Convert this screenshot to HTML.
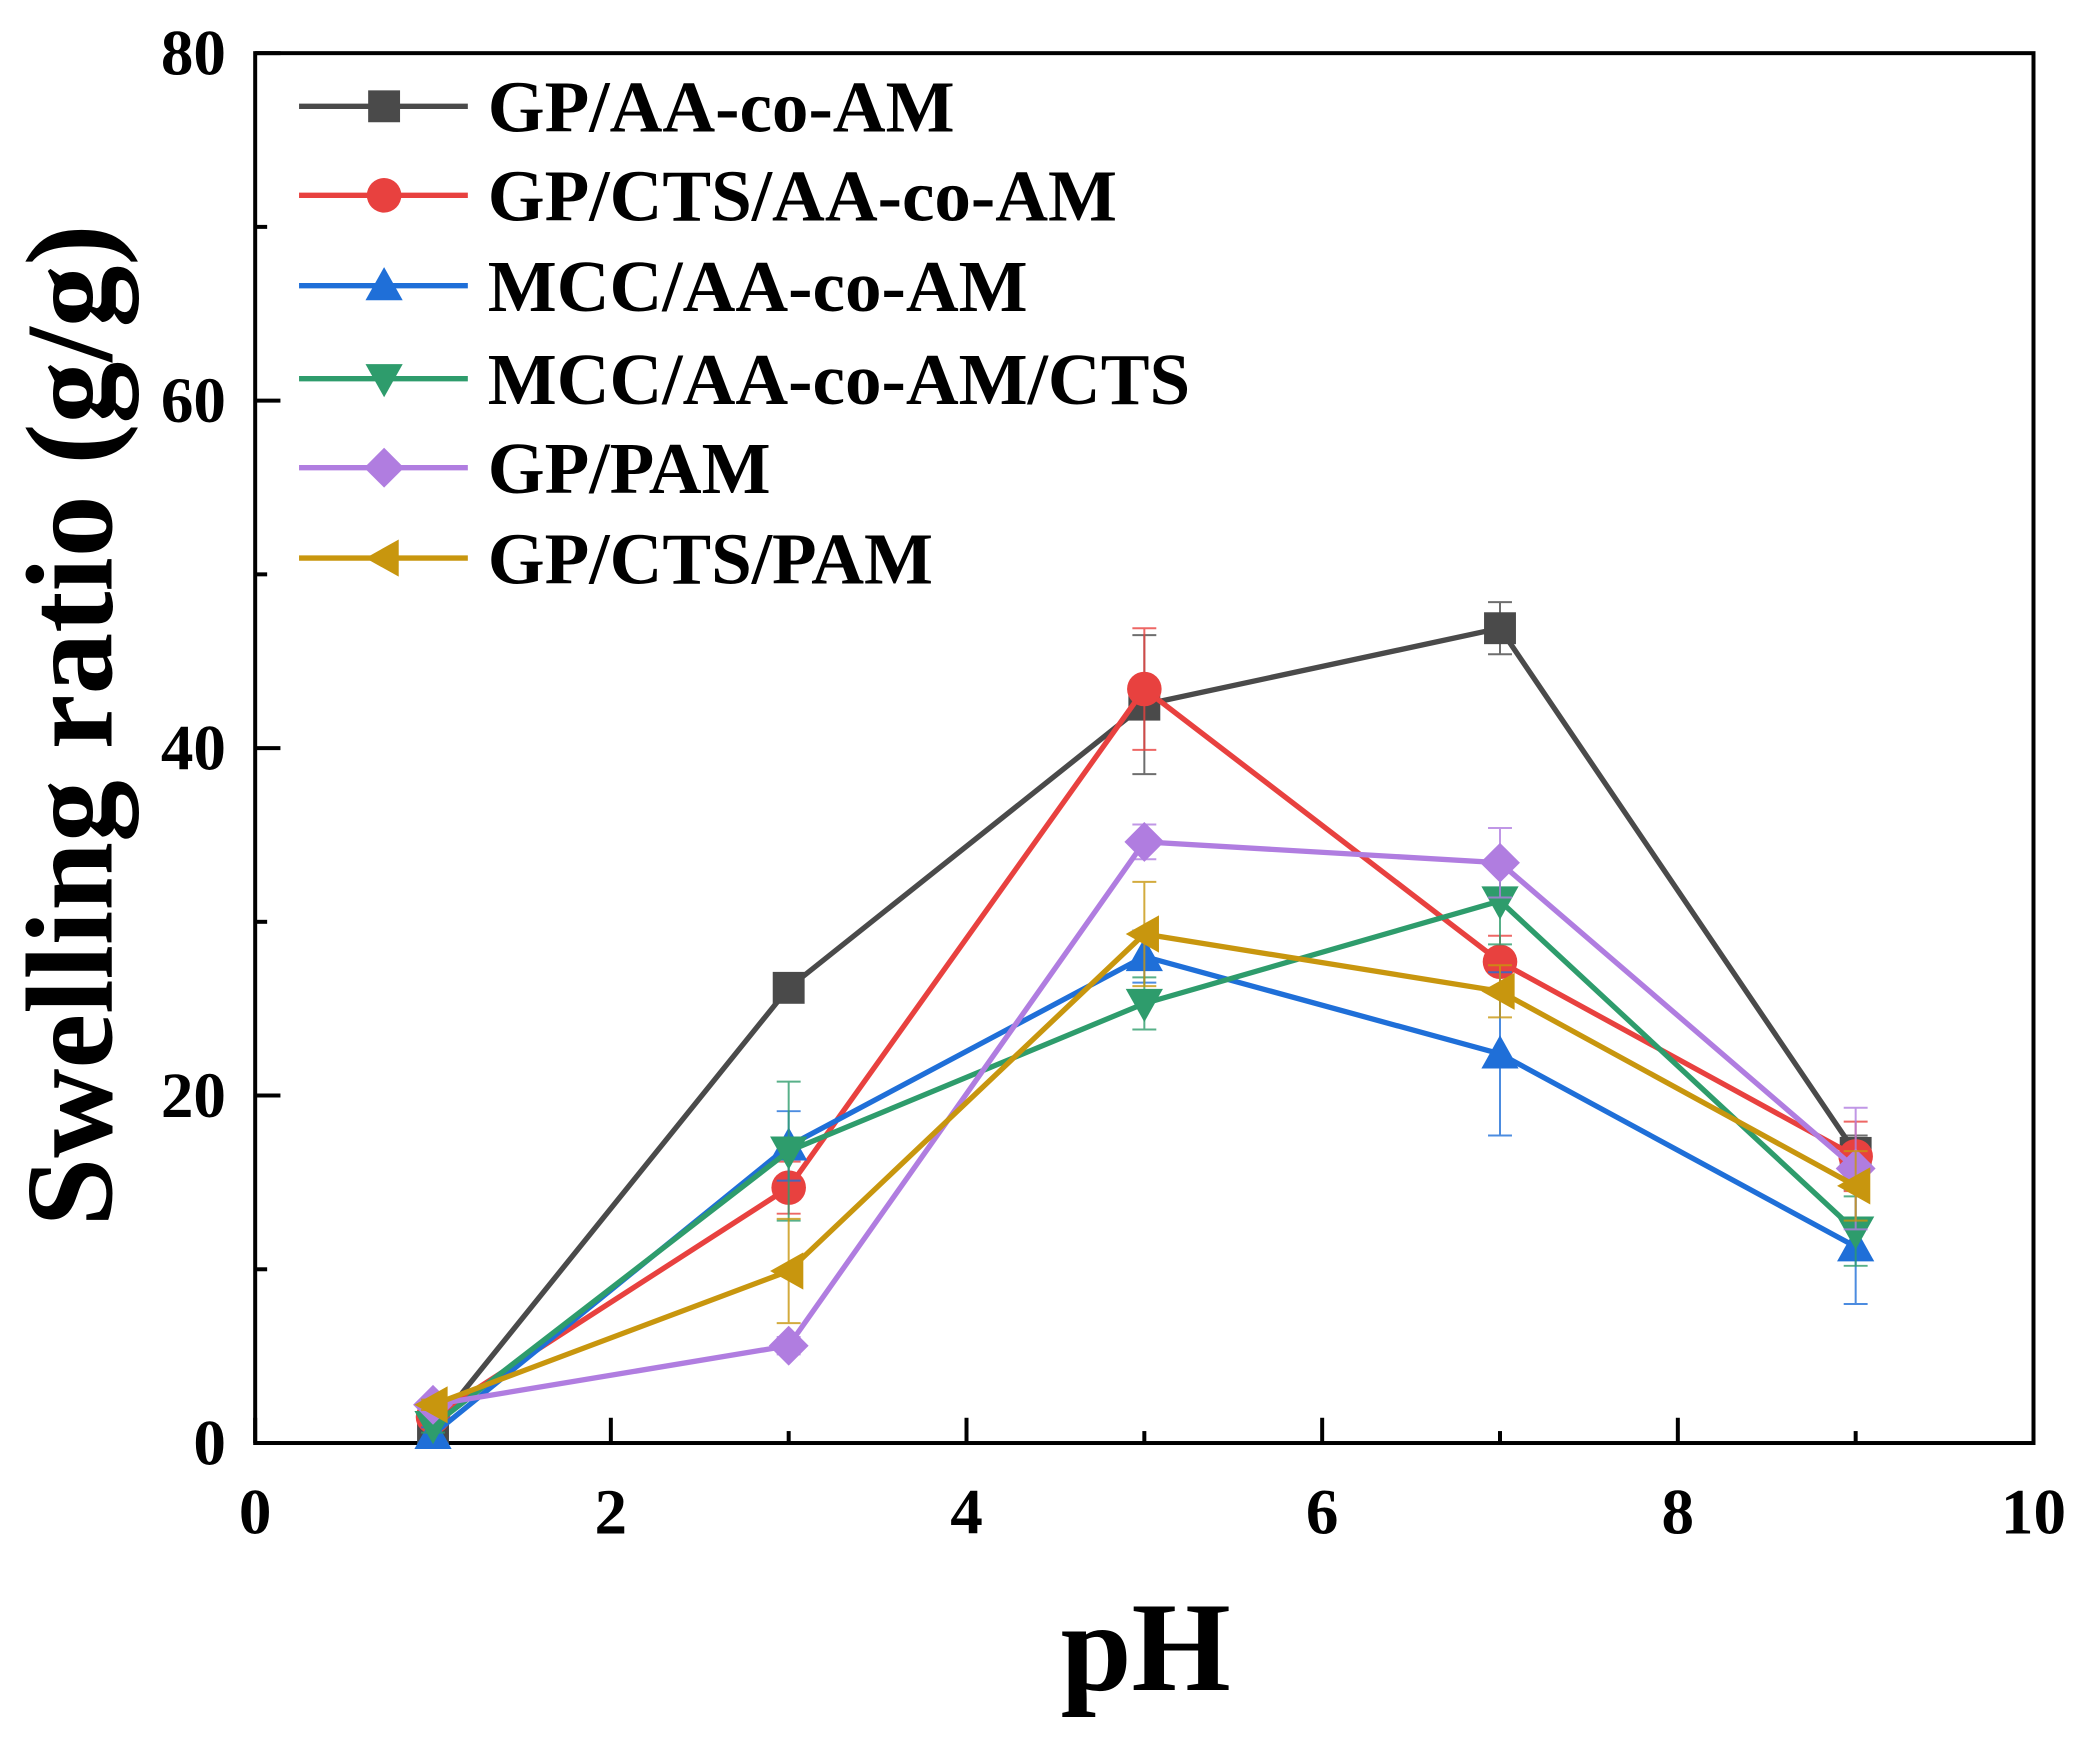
<!DOCTYPE html>
<html><head><meta charset="utf-8"><style>
html,body{margin:0;padding:0;background:#fff;}
svg{display:block;}
text{font-family:"Liberation Serif",serif;font-weight:bold;fill:#000;}
</style></head><body>
<svg id="chart" width="2084" height="1738" viewBox="0 0 1568 1308" preserveAspectRatio="none" xmlns="http://www.w3.org/2000/svg">
<g id="axes"></g><g id="series"></g><g id="legend"></g>
</svg>
<script>
const xTicks = [0, 2, 4, 6, 8, 10];
const yTicks = [0, 20, 40, 60, 80];
const phValues = [1, 3, 5, 7, 9];
const seriesNames = ["GP/AA-co-AM", "GP/CTS/AA-co-AM", "MCC/AA-co-AM", "MCC/AA-co-AM/CTS", "GP/PAM", "GP/CTS/PAM"];
const gpAA = [0.8, 26.2, 42.5, 46.9, 16.7];
const gpAAErr = [0.4, 0.5, 4.0, 1.5, 1.0];
const gpCtsAA = [1.5, 14.7, 43.4, 27.7, 16.5];
const gpCtsAAErr = [0.5, 1.5, 3.5, 1.5, 2.0];
const mccAA = [0.5, 17.1, 28.0, 22.4, 11.3];
const mccAAErr = [0.4, 2.0, 1.5, 4.7, 3.3];
const mccAACts = [1.0, 16.8, 25.3, 31.2, 12.2];
const mccAACtsErr = [0.4, 4.0, 1.5, 2.5, 2.0];
const gpPam = [2.2, 5.6, 34.6, 33.4, 15.8];
const gpPamErr = [0.3, 0.5, 1.0, 2.0, 3.5];
const gpCtsPam = [2.2, 9.9, 29.3, 26.0, 14.8];
const gpCtsPamErr = [0.3, 3.0, 3.0, 1.5, 2.0];

const NS = "http://www.w3.org/2000/svg";
const X0 = 192, X1 = 1530, Y0 = 1086, Y1 = 40;
const xs = v => X0 + (v - 0) / 10 * (X1 - X0);
const ys = v => Y0 - (v - 0) / 80 * (Y0 - Y1);
function mk(tag, attrs, parent) {
  const e = document.createElementNS(NS, tag);
  for (const k in attrs) e.setAttribute(k, attrs[k]);
  parent.appendChild(e);
  return e;
}
const axes = document.getElementById("axes");
const frame = mk("rect", {x: X0, y: Y1, width: X1 - X0, height: Y0 - Y1, fill: "none", stroke: "#000", "stroke-width": 3}, axes);


for (let v = 0; v <= 10; v += 1) {
  const major = v % 2 === 0;
  const t = mk("line", {x1: xs(v), x2: xs(v), y1: Y0, y2: Y0 - (major ? 19 : 9), stroke: "#000", "stroke-width": 3}, axes);
  
  
}
for (let v = 0; v <= 80; v += 10) {
  const major = v % 20 === 0;
  const t = mk("line", {x1: X0, x2: X0 + (major ? 19 : 9), y1: ys(v), y2: ys(v), stroke: "#000", "stroke-width": 3}, axes);
  
  
}
xTicks.forEach(v => {
  const t = mk("text", {x: xs(v), y: 1154, "font-size": 49, "text-anchor": "middle"}, axes);
  t.textContent = v;
  
  
});
yTicks.forEach(v => {
  const t = mk("text", {x: 170, y: ys(v) + 16, "font-size": 49, "text-anchor": "end"}, axes);
  t.textContent = v;
  
  
});
const xt = mk("text", {x: 862, y: 1272, "font-size": 96, "text-anchor": "middle"}, axes);
xt.textContent = "pH";


const yt = mk("text", {x: 0, y: 0, "font-size": 93, "text-anchor": "middle", transform: "translate(84,546) rotate(-90)"}, axes);
yt.textContent = "Swelling ratio (g/g)";



const colors = ["#4a4a4a", "#e8413f", "#1f6fd8", "#2e9c6c", "#b07de0", "#c8960e"];
const markers = ["square", "circle", "up", "down", "diamond", "left"];
const allVals = [gpAA, gpCtsAA, mccAA, mccAACts, gpPam, gpCtsPam];
const allErr = [gpAAErr, gpCtsAAErr, mccAAErr, mccAACtsErr, gpPamErr, gpCtsPamErr];
const slug = ["gp-aa-co-am", "gp-cts-aa-co-am", "mcc-aa-co-am", "mcc-aa-co-am-cts", "gp-pam", "gp-cts-pam"];
function marker(type, cx, cy, color, parent) {
  const s = 12;
  let e;
  if (type === "square") e = mk("rect", {x: cx - s, y: cy - s, width: 2 * s, height: 2 * s, fill: color}, parent);
  else if (type === "circle") e = mk("circle", {cx, cy, r: s + 1, fill: color}, parent);
  else {
    let p;
    if (type === "up") p = [[cx, cy - 14], [cx + 14, cy + 11], [cx - 14, cy + 11]];
    if (type === "down") p = [[cx, cy + 14], [cx + 14, cy - 11], [cx - 14, cy - 11]];
    if (type === "diamond") p = [[cx, cy - 15], [cx + 15, cy], [cx, cy + 15], [cx - 15, cy]];
    if (type === "left") p = [[cx - 14, cy], [cx + 11, cy - 14], [cx + 11, cy + 14]];
    e = mk("polygon", {points: p.map(q => q.join(",")).join(" "), fill: color}, parent);
  }
  return e;
}
const sg = document.getElementById("series");
allVals.forEach((vals, i) => {
  const g = mk("g", {}, sg);
  
  
  vals.forEach((v, j) => {
    const e = allErr[i][j], x = xs(phValues[j]);
    const eb = mk("path", {d: `M${x},${ys(v - e)}V${ys(v + e)}M${x - 9},${ys(v - e)}H${x + 9}M${x - 9},${ys(v + e)}H${x + 9}`, stroke: colors[i], "stroke-width": 1.5, fill: "none", opacity: 0.8}, g);
    
    
  });
  const line = mk("polyline", {points: vals.map((v, j) => xs(phValues[j]) + "," + ys(v)).join(" "), fill: "none", stroke: colors[i], "stroke-width": 4}, g);
  
  
  vals.forEach((v, j) => {
    const m = marker(markers[i], xs(phValues[j]), ys(v), colors[i], g);
    
    
  });
});
const lg = document.getElementById("legend");


const legY = [80, 147, 215, 285, 352, 420];
seriesNames.forEach((n, i) => {
  const g = mk("g", {}, lg);
  
  
  mk("line", {x1: 225, x2: 352, y1: legY[i], y2: legY[i], stroke: colors[i], "stroke-width": 4}, g);
  marker(markers[i], 289, legY[i], colors[i], g);
  const t = mk("text", {x: 367, y: legY[i] + 19, "font-size": 55}, g);
  t.textContent = n;
});
</script>
</body></html>
